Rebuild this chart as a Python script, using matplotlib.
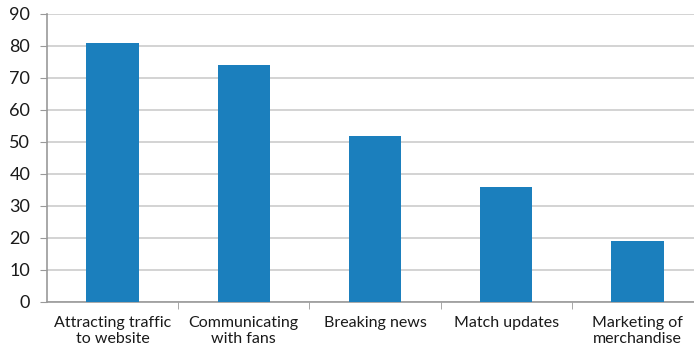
import matplotlib.pyplot as plt
import numpy as np

categories = ["Attracting traffic\nto website", "Communicating\nwith fans",
              "Breaking news", "Match updates", "Marketing of\nmerchandise"]
values = [81, 74, 52, 36, 19]
yticks = list(range(0, 100, 10))

plt.rcParams['font.family'] = ['Lato', 'DejaVu Sans']

fig = plt.figure(figsize=(6.94, 3.56), dpi=100)
ax = fig.add_axes([47 / 694, 54 / 356, 656 / 694, 288 / 356])

x = np.arange(len(categories))
ax.bar(x, values, width=0.4, color='#1B7FBD', zorder=3)

ax.set_xlim(-0.5, len(categories) - 0.5)
ax.set_ylim(0, 90)
ax.set_yticks(yticks)
ax.grid(axis='y', color='#cccccc', linewidth=1.2, zorder=0)

ax.set_xticks(x)
ax.set_xticklabels(categories, fontsize=11.5, color='#1a1a1a', va='top', linespacing=1.2)
ax.set_xticks(np.arange(0.5, len(categories) - 0.5), minor=True)
ax.tick_params(axis='x', which='major', length=0, pad=10)
ax.tick_params(axis='x', which='minor', length=5, color='#999999')
ax.tick_params(axis='y', length=5, color='#999999', labelsize=13, labelcolor='#1a1a1a', pad=7)

for side in ['top', 'right']:
    ax.spines[side].set_visible(False)
for side in ['left', 'bottom']:
    ax.spines[side].set_color('#999999')
    ax.spines[side].set_linewidth(1.2)

fig.savefig('out.png', dpi=100)
